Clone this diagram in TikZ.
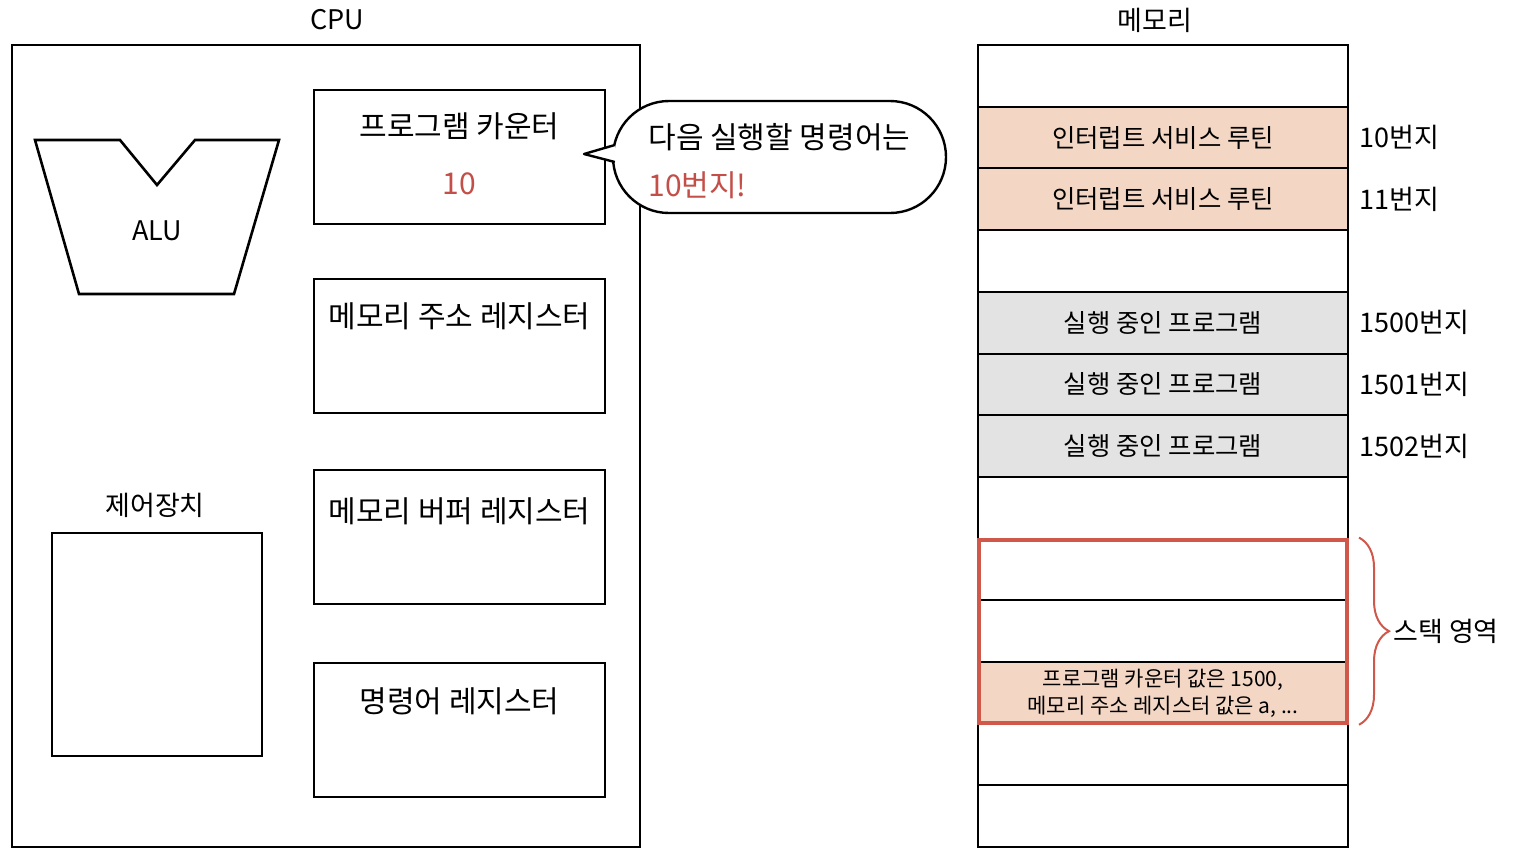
\documentclass[tikz,border=0pt]{standalone}
\usepackage{fontspec}
\setmainfont{Noto Sans CJK KR}
\usepackage{tikz}
\usetikzlibrary{positioning, fit, calc, shapes.misc, decorations.pathreplacing}

\definecolor{valred}{RGB}{196,78,72}
\definecolor{intrfill}{RGB}{243,214,196}
\definecolor{progfill}{RGB}{227,227,227}
\definecolor{stackred}{RGB}{208,88,74}

\begin{document}
\begin{tikzpicture}[
    x=0.5pt, y=-0.5pt,
    font=\fontsize{13.5}{16}\selectfont,
    box/.style={
        draw=black,
        fill=white,
        rectangle,
        line width=1.3pt,
        inner sep=0pt
    },
    regbox/.style={
        box,
        minimum width=145.5pt,
        minimum height=67pt
    },
    unitbox/.style={
        box,
        minimum width=105pt,
        minimum height=111.5pt
    },
    regtext/.style={
        font=\fontsize{15}{17}\selectfont,
        inner sep=0pt
    },
    pcvalue/.style={
        regtext,
        text=valred
    },
    memrow/.style={
        draw=black,
        line width=1pt,
        rectangle,
        minimum width=185pt,
        minimum height=30.85pt,
        inner sep=0pt,
        font=\fontsize{12.7}{15}\selectfont
    },
    blankrow/.style={memrow, fill=white},
    introw/.style={memrow, fill=intrfill},
    progrow/.style={memrow, fill=progfill},
    stackrow/.style={
        memrow,
        fill=intrfill,
        align=center,
        font=\fontsize{10.5}{13.5}\selectfont
    },
    addr/.style={
        font=\fontsize{13.5}{15}\selectfont,
        inner sep=0pt
    },
    bubble/.style={
        draw=black,
        fill=white,
        rounded rectangle,
        line width=1.2pt,
        minimum width=166.5pt,
        minimum height=56pt,
        inner sep=0pt
    },
    bubbletext/.style={
        align=left,
        inner sep=0pt,
        font=\fontsize{15}{24}\selectfont
    },
    bubbleline/.style={
        draw=black,
        line width=1.2pt,
        line join=round
    },
    stackbrace/.style={
        decorate,
        decoration={brace, amplitude=15pt},
        draw=stackred,
        line width=1pt
    }
]
\useasboundingbox (0,0) rectangle (1514,864);

% CPU side
\node (cputitle) at (337,20) {CPU};
\node[box, minimum width=314pt, minimum height=401pt] (cpu) at (326,446) {};

\draw[box] (35,140) -- (120,140) -- (157,185) -- (195,140) -- (279,140)
    -- (234,294) -- (79,294) -- cycle;
\node (alu) at (157,231) {ALU};

\node (ctrltitle) at (155,505) {제어장치};
\node[unitbox] (ctrl) at (157,644.5) {};

\node[regbox] (pc) at (459.5,157) {};
\node[regbox, below=26.2pt of pc] (mar) {};
\node[regbox, below=27.2pt of mar] (mbr) {};
\node[regbox, below=28.2pt of mbr] (ir) {};

\node[regtext] (pctitle) at ($(pc.north)+(0,38)$) {프로그램 카운터};
\node[pcvalue] (pcval) at ($(pc.north)+(0,95)$) {10};
\node[regtext] (martitle) at ($(mar.north)+(0,39)$) {메모리 주소 레지스터};
\node[regtext] (mbrtitle) at ($(mbr.north)+(0,43)$) {메모리 버퍼 레지스터};
\node[regtext] (irtitle) at ($(ir.north)+(0,40)$) {명령어 레지스터};

% speech bubble
\node[bubble] (bubble) at (779.5,157) {};
\node[bubbletext, anchor=west] (bubbletxt) at (648,161) {다음 실행할 명령어는\\\textcolor{valred}{10번지!}};
\coordinate (tailtip) at (584,154);
\fill[white] ($(bubble.west)+(3,-12)$) -- (tailtip) -- ($(bubble.west)+(3,5)$) -- cycle;
\draw[bubbleline] ($(bubble.west)+(3,-12)$) -- (tailtip) -- ($(bubble.west)+(3,5)$);

% memory side
\node (memtitle) at (1155,20) {메모리};

\foreach \i/\kind/\txt in {
    0/blankrow/{},
    1/introw/{인터럽트 서비스 루틴},
    2/introw/{인터럽트 서비스 루틴},
    3/blankrow/{},
    4/progrow/{실행 중인 프로그램},
    5/progrow/{실행 중인 프로그램},
    6/progrow/{실행 중인 프로그램},
    7/blankrow/{},
    8/blankrow/{},
    9/blankrow/{},
    10/stackrow/{프로그램 카운터 값은 1500,\\메모리 주소 레지스터 값은 a, ...},
    11/blankrow/{},
    12/blankrow/{}}
    \node[\kind] (row\i) at (1163,{75.85+61.7*\i}) {\txt};

\node[box, fill=none, minimum width=185pt, minimum height=401pt] (mem) at (1163,446) {};

\foreach \i/\addrtxt in {1/10번지, 2/11번지, 4/1500번지, 5/1501번지, 6/1502번지}
    \node[addr, right=5pt of row\i] (addr\i) {\addrtxt};

% stack area
\node[draw=stackred, line width=2pt, inner sep=-1pt, fit=(row8)(row10)] (stack) {};
\draw[stackbrace] ($(stack.north east)+(10,0)$) -- ($(stack.south east)+(10,0)$);
\node[anchor=west, inner sep=0pt] (stacklabel) at ($(stack.east)+(44,0)$) {스택 영역};

\end{tikzpicture}
\end{document}
